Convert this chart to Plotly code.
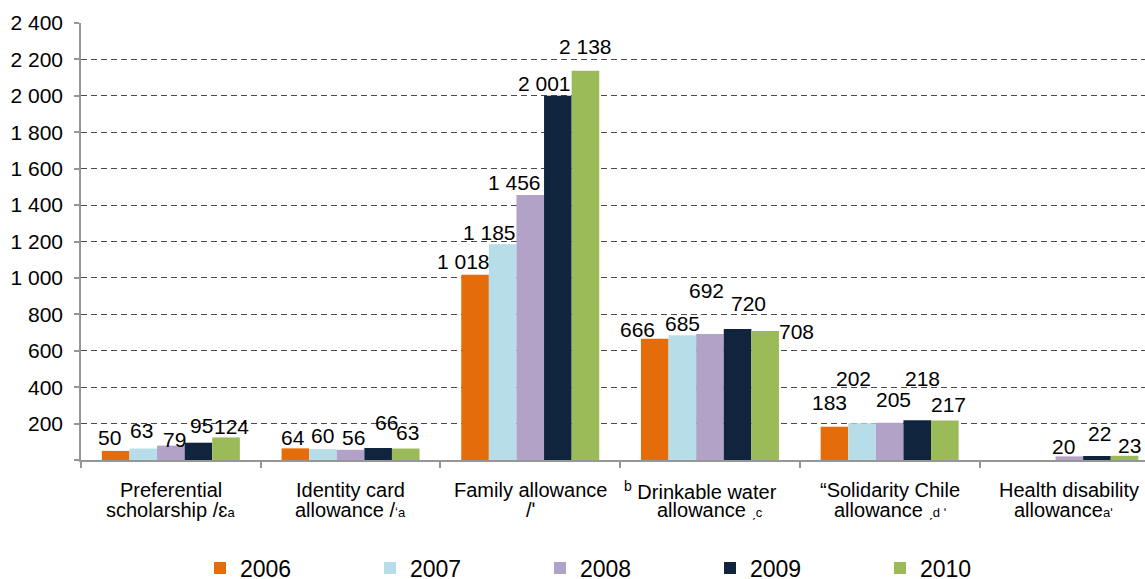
import plotly.graph_objects as go

# ---- data ----
years = ["2006", "2007", "2008", "2009", "2010"]
categories = ["Preferential scholarship", "Identity card allowance", "Family allowance",
              "Drinkable water allowance", "Solidarity Chile allowance", "Health disability allowance"]
v2006 = [50, 64, 1018, 666, 183, None]
v2007 = [63, 60, 1185, 685, 202, None]
v2008 = [79, 56, 1456, 692, 205, 20]
v2009 = [95, 66, 2001, 720, 218, 22]
v2010 = [124, 63, 2138, 708, 217, 23]
series = [v2006, v2007, v2008, v2009, v2010]

cat_line1 = ["Preferential", "Identity card", "Family allowance",
             "<sup>b</sup> Drinkable water",
             "\u201cSolidarity Chile", "Health disability"]
cat_line2 = ["scholarship /\u025b<span style='font-size:13px'>a</span>",
             "allowance /<span style='font-size:13px'>\u02bba</span>",
             "/\u02b9",
             "allowance <span style='font-size:13px'>\u02cfc</span>",
             "allowance <span style='font-size:13px'>\u02cfd \u02b9</span>",
             "allowance<span style='font-size:13px'>a\u02b9</span>"]

y_tickvals = list(range(0, 2401, 200))
y_ticktext = [""] + [f"{v:,}".replace(",", " ") for v in y_tickvals[1:]]

# ---- style ----
colors = ["#E46C0A", "#B7DEE8", "#B3A2C7", "#10243E", "#9BBB59"]
FONT = "Liberation Sans, Arial, sans-serif"
bargap = 0.232
# label offsets (dx px, dy px of label centre above bar top), per category/year
label_offsets = [
    [(-6, 13), (-2, 18), (4, 6.5), (3, 17), (5.5, 10.5)],
    [(-2, 11), (0, 13.5), (3, 12.5), (8, 25), (2, 16)],
    [(-12, 13), (-13, 11.5), (-16, 12), (-13, 12), (0, 24)],
    [(-17, 9.5), (0.5, 12), (-3, 44), (10.5, 25), (31, 0)],
    [(-5, 24), (-9, 45), (3.5, 23.5), (5.5, 42), (3.5, 15.5)],
    [None, None, (-6, 9.7), (2.7, 22), (5, 10)],
]
line1_dx = [0, 0, 0, -9, 0, 0]
line2_dx = [0, 0, 0, 0, 0, -6]

fig = go.Figure()
for yr, vals, col in zip(years, series, colors):
    fig.add_trace(go.Bar(name=yr, x=categories, y=vals, marker=dict(color=col, line=dict(width=0))))

annotations = []
bar_w = (1 - bargap) / len(years)
for ci, cat in enumerate(categories):
    for si, vals in enumerate(series):
        v = vals[ci]
        if v is None:
            continue
        dx, dy = label_offsets[ci][si]
        annotations.append(dict(
            x=ci + (si - 2) * bar_w, y=v, xref="x", yref="y",
            text=f"{v:,}".replace(",", " "), showarrow=False,
            xanchor="center", yanchor="middle", xshift=dx, yshift=dy,
            font=dict(family=FONT, size=21, color="#000000")))
    annotations.append(dict(x=ci, y=0, xref="x", yref="paper", text=cat_line1[ci],
                            showarrow=False, xanchor="center", yanchor="middle",
                            xshift=line1_dx[ci], yshift=-30,
                            font=dict(family=FONT, size=20, color="#000000")))
    annotations.append(dict(x=ci, y=0, xref="x", yref="paper", text=cat_line2[ci],
                            showarrow=False, xanchor="center", yanchor="middle",
                            xshift=line2_dx[ci], yshift=-50,
                            font=dict(family=FONT, size=20, color="#000000")))

W, H = 1145, 579
ml, mt, mb = 81, 23, 119
plot_w = W - ml
cat_px = 179.7
x_range = [-0.5, -0.5 + plot_w / cat_px]

fig.update_layout(
    width=W, height=H,
    margin=dict(l=ml, r=0, t=mt, b=mb, pad=0, autoexpand=False),
    paper_bgcolor="white", plot_bgcolor="white",
    barmode="group", bargap=bargap, bargroupgap=0,
    font=dict(family=FONT, size=21, color="#000000"),
    annotations=annotations,
    showlegend=True,
    legend=dict(orientation="h", x=(200 - ml) / plot_w, xanchor="left",
                y=-(568 - (H - mb)) / (H - mt - mb), yanchor="middle",
                font=dict(family=FONT, size=23, color="#000000"),
                entrywidth=125, entrywidthmode="pixels", itemwidth=30,
                bgcolor="rgba(0,0,0,0)"),
    xaxis=dict(type="category", range=x_range, showline=True, linecolor="#969696", linewidth=1.5,
               ticks="outside", tickson="boundaries", ticklen=6, tickcolor="#969696", tickwidth=1.5,
               showticklabels=False, showgrid=False, zeroline=False),
    yaxis=dict(range=[0, 2400], tickvals=y_tickvals, ticktext=y_ticktext,
               showline=True, linecolor="#969696", linewidth=1.5,
               ticks="outside", ticklen=5, tickcolor="#969696", tickwidth=1.5,
               ticklabelstandoff=7,
               showgrid=True, gridcolor="#4a4a4a", gridwidth=1, griddash="6px,4px",
               zeroline=False, tickfont=dict(family=FONT, size=21, color="#000000")),
)

fig.write_html("out.html", config={"displayModeBar": False},
               post_script="document.body.style.margin='0';document.body.style.overflow='hidden';")
